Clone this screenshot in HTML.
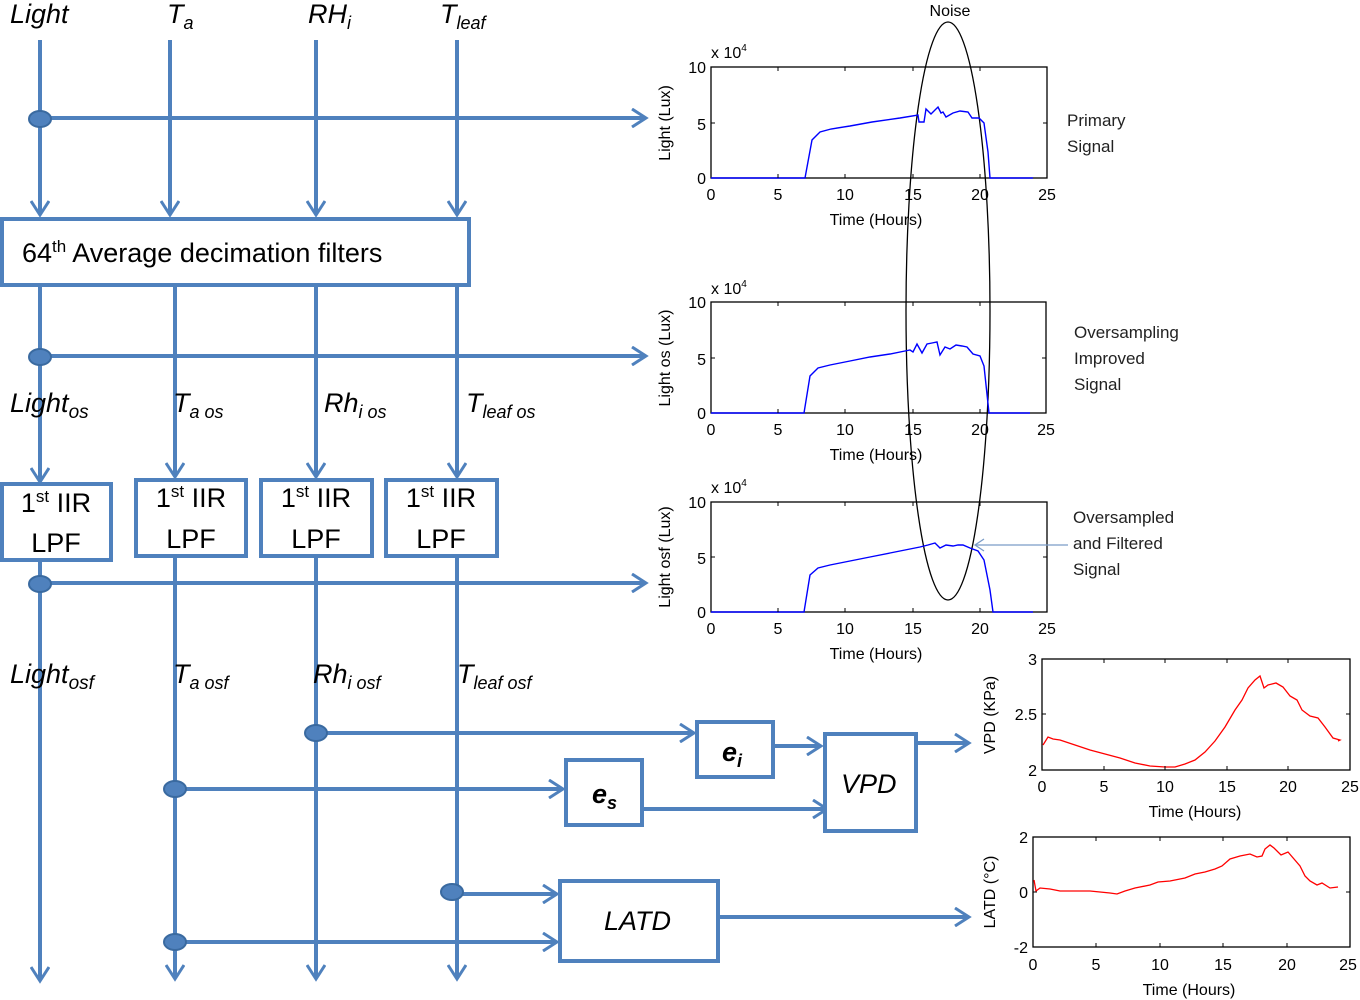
<!DOCTYPE html>
<html><head><meta charset="utf-8"><style>
body{margin:0;background:#fff}
svg{display:block}
.l{font-family:"Liberation Sans",sans-serif;font-style:italic;font-size:27px;fill:#000}
.b{font-family:"Liberation Sans",sans-serif;font-size:27px;fill:#000}
.t{font-family:"Liberation Sans",sans-serif;font-size:16px;fill:#000}
.s{font-family:"Liberation Sans",sans-serif;font-size:17px;fill:#222}
</style></head><body>
<svg width="1360" height="1000" viewBox="0 0 1360 1000">
<defs>
<marker id="a" markerWidth="18" markerHeight="20" refX="14" refY="10" orient="auto" markerUnits="userSpaceOnUse" viewBox="0 0 18 20"><path d="M1,1 L15,10 L1,19" fill="none" stroke="#4f81bd" stroke-width="3"/></marker>
</defs>
<g stroke="#4f81bd" stroke-width="4" fill="none">
<line x1="40" y1="40" x2="40" y2="214" marker-end="url(#a)"/>
<line x1="170" y1="40" x2="170" y2="214" marker-end="url(#a)"/>
<line x1="316" y1="40" x2="316" y2="214" marker-end="url(#a)"/>
<line x1="457" y1="40" x2="457" y2="214" marker-end="url(#a)"/>
<line x1="40" y1="118" x2="645" y2="118" marker-end="url(#a)"/>
<rect x="2" y="219" width="467" height="66" fill="#fff"/>
<line x1="40" y1="287" x2="40" y2="481" marker-end="url(#a)"/>
<line x1="175" y1="287" x2="175" y2="476" marker-end="url(#a)"/>
<line x1="316" y1="287" x2="316" y2="476" marker-end="url(#a)"/>
<line x1="457" y1="287" x2="457" y2="476" marker-end="url(#a)"/>
<line x1="40" y1="356" x2="645" y2="356" marker-end="url(#a)"/>
<rect x="2" y="484" width="109" height="76" fill="#fff"/>
<rect x="136" y="480" width="110" height="76" fill="#fff"/>
<rect x="261" y="480" width="111" height="76" fill="#fff"/>
<rect x="386" y="480" width="111" height="76" fill="#fff"/>
<line x1="40" y1="562" x2="40" y2="980" marker-end="url(#a)"/>
<line x1="175" y1="558" x2="175" y2="978" marker-end="url(#a)"/>
<line x1="316" y1="558" x2="316" y2="978" marker-end="url(#a)"/>
<line x1="457" y1="558" x2="457" y2="978" marker-end="url(#a)"/>
<line x1="40" y1="583" x2="645" y2="583" marker-end="url(#a)"/>
<line x1="316" y1="733" x2="693" y2="733" marker-end="url(#a)"/>
<line x1="175" y1="789" x2="562" y2="789" marker-end="url(#a)"/>
<line x1="642" y1="809" x2="826" y2="809" marker-end="url(#a)"/>
<line x1="773" y1="746" x2="820" y2="746" marker-end="url(#a)"/>
<line x1="916" y1="743" x2="968" y2="743" marker-end="url(#a)"/>
<line x1="452" y1="894" x2="556" y2="894" marker-end="url(#a)"/>
<line x1="175" y1="942" x2="556" y2="942" marker-end="url(#a)"/>
<line x1="718" y1="917" x2="968" y2="917" marker-end="url(#a)"/>
<rect x="697" y="722" width="76" height="55" fill="#fff"/>
<rect x="566" y="760" width="76" height="65" fill="#fff"/>
<rect x="825" y="734" width="91" height="97" fill="#fff"/>
<rect x="560" y="881" width="158" height="80" fill="#fff"/>
</g>
<g fill="#4f81bd" stroke="#3a6aa0" stroke-width="2">
<ellipse cx="40" cy="119" rx="11" ry="8"/><ellipse cx="40" cy="357" rx="11" ry="8"/><ellipse cx="40" cy="584" rx="11" ry="8"/>
<ellipse cx="316" cy="733" rx="11" ry="8"/><ellipse cx="175" cy="789" rx="11" ry="8"/><ellipse cx="452" cy="892" rx="11" ry="8"/><ellipse cx="175" cy="942" rx="11" ry="8"/>
</g>
<text class="l" x="10" y="23" font-size="29">Light</text>
<text class="l" x="167" y="23" font-size="29">T<tspan font-size="18" dy="6">a</tspan></text>
<text class="l" x="308" y="23" font-size="29">RH<tspan font-size="18" dy="6">i</tspan></text>
<text class="l" x="440" y="23" font-size="29">T<tspan font-size="18" dy="6">leaf</tspan></text>
<text class="b" x="22" y="262">64<tspan font-size="17" dy="-10">th</tspan><tspan dy="10"> Average decimation filters</tspan></text>
<text class="l" x="10" y="412">Light<tspan font-size="19" dy="6">os</tspan></text>
<text class="l" x="173" y="412">T<tspan font-size="18" dy="6">a os</tspan></text>
<text class="l" x="324" y="412">Rh<tspan font-size="18" dy="6">i os</tspan></text>
<text class="l" x="466" y="412">T<tspan font-size="18" dy="6">leaf os</tspan></text>
<text class="l" x="10" y="683">Light<tspan font-size="19" dy="6">osf</tspan></text>
<text class="l" x="173" y="683">T<tspan font-size="18" dy="6">a osf</tspan></text>
<text class="l" x="313" y="683">Rh<tspan font-size="18" dy="6">i osf</tspan></text>
<text class="l" x="457" y="683">T<tspan font-size="18" dy="6">leaf osf</tspan></text>
<g class="b" text-anchor="middle">
<text x="56" y="512">1<tspan font-size="17" dy="-10">st</tspan><tspan dy="10"> IIR</tspan></text><text x="56" y="552">LPF</text>
<text x="191" y="507">1<tspan font-size="17" dy="-10">st</tspan><tspan dy="10"> IIR</tspan></text><text x="191" y="548">LPF</text>
<text x="316" y="507">1<tspan font-size="17" dy="-10">st</tspan><tspan dy="10"> IIR</tspan></text><text x="316" y="548">LPF</text>
<text x="441" y="507">1<tspan font-size="17" dy="-10">st</tspan><tspan dy="10"> IIR</tspan></text><text x="441" y="548">LPF</text>
</g>
<text class="l" x="722" y="761" font-weight="bold">e<tspan font-size="18" dy="6">i</tspan></text>
<text class="l" x="592" y="803" font-weight="bold">e<tspan font-size="18" dy="6">s</tspan></text>
<text class="l" x="841" y="793">VPD</text>
<text class="l" x="604" y="930">LATD</text>
<g fill="none" stroke="#000" stroke-width="1.3">
<rect x="711" y="67" width="336" height="111"/>
<rect x="711" y="302" width="335" height="111"/>
<rect x="711" y="502" width="336" height="110"/>
<rect x="1042" y="659" width="308" height="111"/>
<rect x="1033" y="837" width="317" height="110"/>
<ellipse cx="948" cy="311" rx="42" ry="289"/>
</g>
<g class="t">
<g text-anchor="middle">
<text x="711" y="200">0</text><text x="778" y="200">5</text><text x="845" y="200">10</text><text x="913" y="200">15</text><text x="980" y="200">20</text><text x="1047" y="200">25</text>
<text x="876" y="225">Time (Hours)</text>
<text x="711" y="435">0</text><text x="778" y="435">5</text><text x="845" y="435">10</text><text x="913" y="435">15</text><text x="980" y="435">20</text><text x="1046" y="435">25</text>
<text x="876" y="460">Time (Hours)</text>
<text x="711" y="634">0</text><text x="778" y="634">5</text><text x="845" y="634">10</text><text x="913" y="634">15</text><text x="980" y="634">20</text><text x="1047" y="634">25</text>
<text x="876" y="659">Time (Hours)</text>
<text x="1042" y="792">0</text><text x="1104" y="792">5</text><text x="1165" y="792">10</text><text x="1227" y="792">15</text><text x="1288" y="792">20</text><text x="1350" y="792">25</text>
<text x="1195" y="817">Time (Hours)</text>
<text x="1033" y="970">0</text><text x="1096" y="970">5</text><text x="1160" y="970">10</text><text x="1223" y="970">15</text><text x="1287" y="970">20</text><text x="1348" y="970">25</text>
<text x="1189" y="995">Time (Hours)</text>
<text x="950" y="16">Noise</text>
</g>
<g text-anchor="end">
<text x="706" y="73">10</text><text x="706" y="130">5</text><text x="706" y="184">0</text>
<text x="706" y="308">10</text><text x="706" y="365">5</text><text x="706" y="419">0</text>
<text x="706" y="508">10</text><text x="706" y="564">5</text><text x="706" y="618">0</text>
<text x="1037" y="665">3</text><text x="1037" y="720">2.5</text><text x="1037" y="776">2</text>
<text x="1028" y="843">2</text><text x="1028" y="898">0</text><text x="1028" y="953">-2</text>
</g>
<text x="711" y="58">x 10<tspan font-size="10" dy="-7">4</tspan></text>
<text x="711" y="294">x 10<tspan font-size="10" dy="-7">4</tspan></text>
<text x="711" y="493">x 10<tspan font-size="10" dy="-7">4</tspan></text>
<text transform="translate(670,123) rotate(-90)" text-anchor="middle">Light (Lux)</text>
<text transform="translate(670,358) rotate(-90)" text-anchor="middle">Light os (Lux)</text>
<text transform="translate(670,557) rotate(-90)" text-anchor="middle">Light osf (Lux)</text>
<text transform="translate(995,715) rotate(-90)" text-anchor="middle">VPD (KPa)</text>
<text transform="translate(995,892) rotate(-90)" text-anchor="middle">LATD (°C)</text>
</g>
<g class="s">
<text x="1067" y="126">Primary</text><text x="1067" y="152">Signal</text>
<text x="1074" y="338">Oversampling</text><text x="1074" y="364">Improved</text><text x="1074" y="390">Signal</text>
<text x="1073" y="523">Oversampled</text><text x="1073" y="549">and Filtered</text><text x="1073" y="575">Signal</text>
</g>
<line x1="1068" y1="545" x2="976" y2="545" stroke="#7a9cc8" stroke-width="1.3"/>
<path d="M984,539 L975,545 L984,551" fill="none" stroke="#7a9cc8" stroke-width="1.3"/>
<g fill="none" stroke="#0000ff" stroke-width="1.4">
<polyline points="711,178 805,178 812,140 820,132 831,129 850,126 872,122 900,118 918,115 919,122 924,122 926,109 931,114 934,111 938,107 941,113 943,112 946,117 953,113 960,111 968,112 972,118 979,118 984,123 988,152 990,178 1033,178"/>
<polyline points="711,413 804,413 810,376 818,368 830,365 850,361 870,357 890,354 905,351 910,350 913,352 917,344 922,353 927,344 932,343 937,342 940,355 945,347 950,349 956,345 962,346 967,347 973,354 980,356 984,366 989,413 1030,413"/>
<polyline points="711,612 804,612 810,575 818,568 830,565 850,561 870,557 890,553 905,550 915,548 920,547 928,545 935,543 940,548 946,545 953,546 958,545 963,545 970,548 978,551 984,560 990,590 993,612 1033,612"/>
</g>
<g fill="none" stroke="#ff0000" stroke-width="1.3">
<polyline points="1043,745 1048,737 1053,739 1060,740 1075,745 1090,750 1105,754 1120,758 1135,763 1150,766 1165,767 1175,767 1185,764 1195,760 1205,752 1215,741 1225,727 1235,710 1242,700 1248,688 1255,680 1260,676 1264,688 1268,685 1272,684 1276,683 1283,687 1290,696 1297,700 1302,710 1310,716 1318,718 1325,727 1333,738 1340,740 1338,741"/>
<polyline points="1034,880 1036,891 1040,888 1050,889 1060,891 1075,891 1090,891 1100,892 1110,893 1117,894 1125,891 1135,888 1150,885 1158,882 1170,881 1185,878 1195,874 1205,872 1215,869 1222,866 1230,859 1240,856 1250,854 1257,857 1262,856 1265,849 1270,845 1274,848 1281,855 1288,852 1300,866 1305,876 1310,881 1317,885 1322,883 1330,888 1338,887"/>
</g>
<g stroke="#000" stroke-width="1">
<path d="M778,67v4M845,67v4M913,67v4M980,67v4M778,178v-4M845,178v-4M913,178v-4M980,178v-4M711,123h4M1047,123h-4"/>
<path d="M778,302v4M845,302v4M913,302v4M980,302v4M778,413v-4M845,413v-4M913,413v-4M980,413v-4M711,358h4M1046,358h-4"/>
<path d="M778,502v4M845,502v4M913,502v4M980,502v4M778,612v-4M845,612v-4M913,612v-4M980,612v-4M711,557h4M1047,557h-4"/>
<path d="M1104,659v4M1165,659v4M1227,659v4M1288,659v4M1104,770v-4M1165,770v-4M1227,770v-4M1288,770v-4M1042,714h4M1350,714h-4"/>
<path d="M1096,837v4M1160,837v4M1223,837v4M1287,837v4M1096,947v-4M1160,947v-4M1223,947v-4M1287,947v-4M1033,892h4M1350,892h-4"/>
</g>
</svg>
</body></html>
